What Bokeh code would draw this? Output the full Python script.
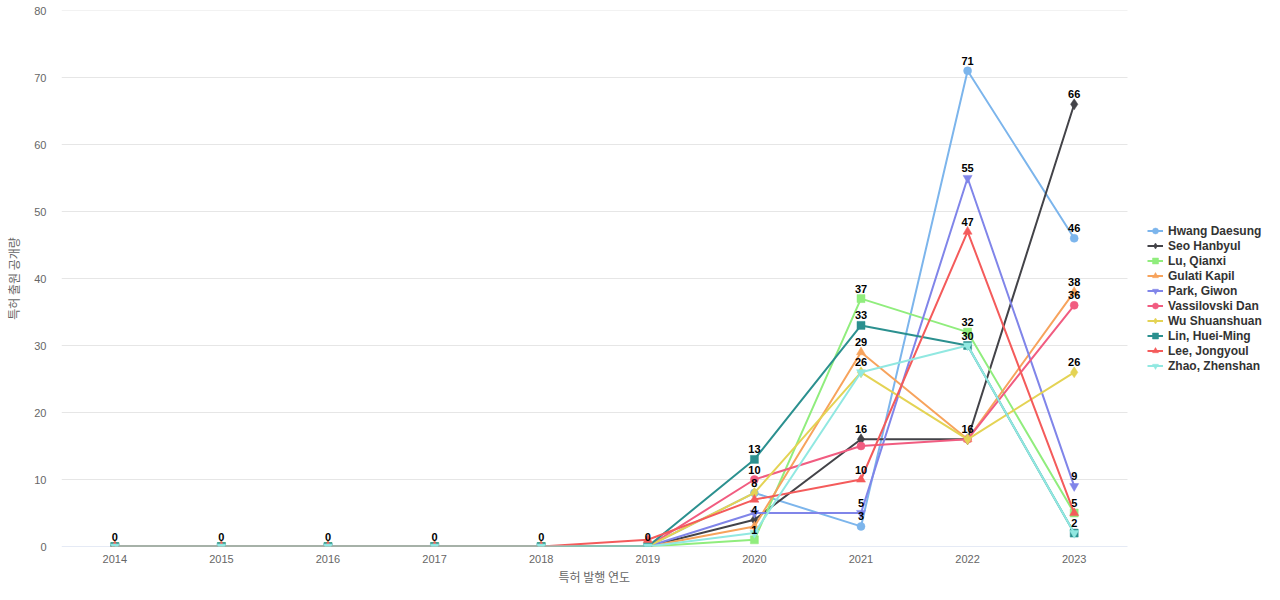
from bokeh.plotting import figure
from bokeh.models import ColumnDataSource, Legend, LegendItem, FixedTicker, Range1d, Title
from bokeh.embed import file_html
from bokeh.resources import INLINE
from bokeh.core.properties import value

years = [2014, 2015, 2016, 2017, 2018, 2019, 2020, 2021, 2022, 2023]
y_ticks = [0, 10, 20, 30, 40, 50, 60, 70, 80]

hwang_daesung = [0, 0, 0, 0, 0, 0, 8, 3, 71, 46]
seo_hanbyul = [0, 0, 0, 0, 0, 0, 4, 16, 16, 66]
lu_qianxi = [0, 0, 0, 0, 0, 0, 1, 37, 32, 5]
gulati_kapil = [0, 0, 0, 0, 0, 0, 3, 29, 16, 38]
park_giwon = [0, 0, 0, 0, 0, 0, 5, 5, 55, 9]
vassilovski_dan = [0, 0, 0, 0, 0, 0, 10, 15, 16, 36]
wu_shuanshuan = [0, 0, 0, 0, 0, 0, 8, 26, 16, 26]
lin_hueiming = [0, 0, 0, 0, 0, 0, 13, 33, 30, 2]
lee_jongyoul = [0, 0, 0, 0, 0, 1, 7, 10, 47, 5]
zhao_zhenshan = [0, 0, 0, 0, 0, 0, 2, 26, 30, 2]

series_names = ["Hwang Daesung", "Seo Hanbyul", "Lu, Qianxi", "Gulati Kapil", "Park, Giwon",
                "Vassilovski Dan", "Wu Shuanshuan", "Lin, Huei-Ming", "Lee, Jongyoul", "Zhao, Zhenshan"]
series_values = [hwang_daesung, seo_hanbyul, lu_qianxi, gulati_kapil, park_giwon,
                 vassilovski_dan, wu_shuanshuan, lin_hueiming, lee_jongyoul, zhao_zhenshan]
colors = ["#7cb5ec", "#434348", "#90ed7d", "#f7a35c", "#8085e9",
          "#f15c80", "#e4d354", "#2b908f", "#f45b5b", "#91e8e1"]
markers = ["circle", "diamond", "square", "triangle", "inverted_triangle"]
marker_sizes = {"circle": 8, "diamond": 11, "square": 8, "triangle": 9, "inverted_triangle": 9}

x_title = "특허 발행 연도"
y_title = "특허 출원 공개량"

FONT = "Liberation Sans"
KFONT = "Noto Sans CJK KR"

# layout geometry: plot area 61..1127 px wide holds the 10 categories;
# the frame is extended to the right edge so the legend can live inside it
PLOT_LEFT, PLOT_RIGHT, TOTAL_W = 61, 1127, 1280
x_start, x_end = years[0] - 0.5, years[-1] + 0.5
px_per_year = (PLOT_RIGHT - PLOT_LEFT) / (x_end - x_start)
x_frame_end = x_start + (TOTAL_W - PLOT_LEFT) / px_per_year

p = figure(width=TOTAL_W, height=600, x_range=Range1d(x_start, x_frame_end), y_range=Range1d(0, 80),
           output_backend="svg", toolbar_location=None,
           min_border_left=PLOT_LEFT, min_border_right=0, min_border_top=10, min_border_bottom=54)
p.outline_line_color = None
p.background_fill_color = "white"

# axes
p.xaxis.ticker = FixedTicker(ticks=years)
p.xaxis.axis_line_color = None
p.xaxis.major_tick_line_color = None
p.xaxis.major_tick_out = 0
p.xaxis.major_tick_in = 0
p.xaxis.minor_tick_line_color = None
p.xaxis.minor_tick_out = 0
p.xaxis.major_label_text_font = FONT
p.xaxis.major_label_text_font_size = "11px"
p.xaxis.major_label_text_color = "#666666"
p.xaxis.major_label_standoff = 8

# x-axis title, centred under the plot area (not the extended frame)
xt = Title(text=x_title, align="left", offset=(PLOT_LEFT + PLOT_RIGHT) / 2 - PLOT_LEFT - 36,
           text_font=KFONT, text_font_size="12px", text_font_style="normal",
           text_color="#666666", standoff=0)
p.add_layout(xt, "below")

p.yaxis.ticker = FixedTicker(ticks=y_ticks)
p.yaxis.axis_line_color = None
p.yaxis.major_tick_line_color = None
p.yaxis.major_tick_out = 0
p.yaxis.major_tick_in = 0
p.yaxis.minor_tick_line_color = None
p.yaxis.minor_tick_out = 0
p.yaxis.major_label_text_font = FONT
p.yaxis.major_label_text_font_size = "11px"
p.yaxis.major_label_text_color = "#666666"
p.yaxis.major_label_standoff = 15
p.yaxis.axis_label = y_title
p.yaxis.axis_label_text_font = KFONT
p.yaxis.axis_label_text_font_size = "12px"
p.yaxis.axis_label_text_font_style = "normal"
p.yaxis.axis_label_text_color = "#666666"
p.yaxis.axis_label_standoff = 9

p.xgrid.grid_line_color = None
p.ygrid.grid_line_color = None

# gridlines and axis line limited to the plot area
grid_src = ColumnDataSource(dict(x0=[x_start] * (len(y_ticks) - 1), x1=[x_end] * (len(y_ticks) - 1),
                                 y=y_ticks[1:]))
p.segment(x0="x0", x1="x1", y0="y", y1="y", source=grid_src, line_color="#e6e6e6", line_width=1)
p.segment(x0=[x_start], x1=[x_end], y0=[0], y1=[0], line_color="#ccd6eb", line_width=1)

items = []
for i, (name, vals, col) in enumerate(zip(series_names, series_values, colors)):
    src = ColumnDataSource(dict(x=years, y=vals))
    ln = p.line("x", "y", source=src, line_color=col, line_width=2)
    mk = markers[i % len(markers)]
    sc = p.scatter("x", "y", source=src, marker=mk, size=marker_sizes[mk],
                   fill_color=col, line_color=col, line_width=0.5)
    items.append(LegendItem(label=name, renderers=[ln, sc]))

# data labels with overlap hiding (greedy in series order, per category)
px_per_unit = 536 / 80.0
lab_x, lab_y, lab_t = [], [], []
for j, yr in enumerate(years):
    shown = []
    for vals in series_values:
        v = vals[j]
        if all(abs(v - s) * px_per_unit >= 10 for s in shown):
            shown.append(v)
            lab_x.append(yr)
            lab_y.append(v)
            lab_t.append(str(v))
lab_src = ColumnDataSource(dict(x=lab_x, y=lab_y, t=lab_t))
p.text("x", "y", text="t", source=lab_src, text_font=value(FONT), text_font_size="11px",
       text_font_style="bold", text_color="#000000", text_align="center",
       text_baseline="bottom", y_offset=-6)

legend = Legend(items=items, location=(1147 - PLOT_LEFT, 173))
legend.orientation = "vertical"
legend.glyph_width = 16
legend.glyph_height = 15
legend.label_height = 15
legend.label_standoff = 5
legend.spacing = 0
legend.padding = 0
legend.margin = 0
legend.border_line_color = None
legend.background_fill_alpha = 0
legend.label_text_font = FONT
legend.label_text_font_size = "12px"
legend.label_text_font_style = "bold"
legend.label_text_color = "#333333"
p.add_layout(legend)

open("out.html", "w").write(file_html(p, INLINE))
